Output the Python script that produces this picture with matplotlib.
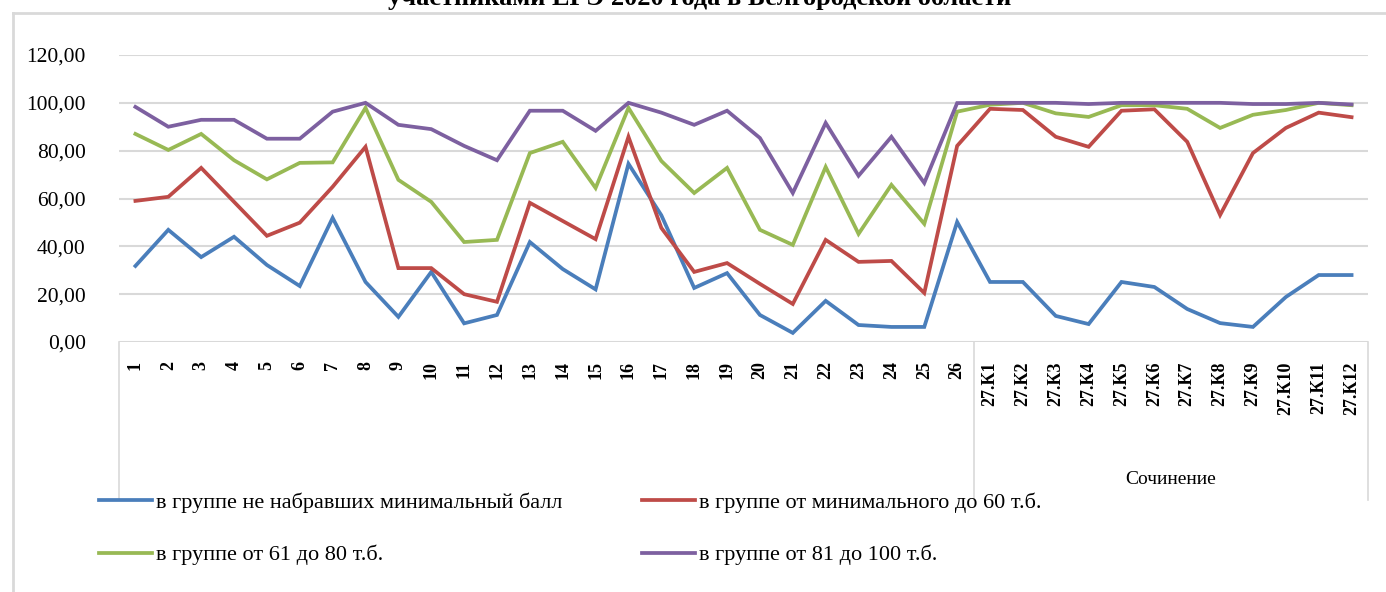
"""
Линейная диаграмма: доли участников по группам баллов (ЕГЭ 2020).
PNG пишется в out.png.
"""
import matplotlib
matplotlib.use("Agg")
import matplotlib.pyplot as plt
import matplotlib.transforms as mtransforms
from matplotlib.lines import Line2D

plt.rcParams["font.family"] = ["Liberation Serif", "DejaVu Serif"]

# --- данные ---
categories = [str(i) for i in range(1, 27)] + [f"27.К{i}" for i in range(1, 13)]

below_min = [31.8, 46.9, 35.5, 44.0, 32.2, 23.4, 51.9, 25.1, 10.5, 29.3,
             7.8, 11.3, 41.8, 30.5, 22.0, 74.5, 53.0, 22.6, 28.8, 11.3,
             3.8, 17.2, 7.1, 6.3, 6.3, 50.2,
             25.1, 25.1, 10.9, 7.5, 25.1, 23.0, 13.8, 7.9, 6.3, 18.8, 28.0, 28.0]

min_to_60 = [59.0, 60.7, 72.8, 58.6, 44.4, 49.9, 64.9, 81.6, 30.9, 30.9,
             20.0, 16.8, 58.2, 50.6, 43.0, 85.8, 47.7, 29.3, 33.0, 24.3,
             15.9, 42.7, 33.5, 33.9, 20.5, 82.0,
             97.5, 97.0, 85.8, 81.6, 96.7, 97.3, 83.7, 53.1, 79.0, 89.5, 95.9, 94.0]

from_61_to_80 = [87.0, 80.3, 87.0, 76.0, 68.0, 74.9, 75.1, 97.9, 67.8, 58.6,
                 41.8, 42.7, 79.0, 83.7, 64.4, 97.9, 75.7, 62.3, 72.8, 46.9,
                 40.6, 73.2, 45.2, 65.7, 49.4, 96.3,
                 99.2, 100.0, 95.6, 94.1, 99.0, 99.0, 97.5, 89.5, 95.0, 97.0, 100.0, 99.0]

from_81_to_100 = [98.3, 90.0, 92.9, 92.9, 85.0, 85.0, 96.3, 100.0, 90.8, 89.0,
                  82.0, 76.0, 96.7, 96.7, 88.3, 100.0, 95.9, 90.8, 96.7, 85.3,
                  62.3, 91.6, 69.5, 85.8, 66.5, 99.9,
                  100.0, 100.0, 100.0, 99.5, 100.0, 100.0, 100.0, 100.0, 99.5, 99.5, 100.0, 99.3]

series = [
    ("в группе не набравших минимальный балл", below_min, "#4A7EBB"),
    ("в группе от минимального до 60 т.б.", min_to_60, "#BE4B48"),
    ("в группе от 61 до 80 т.б.", from_61_to_80, "#98B954"),
    ("в группе от 81 до 100 т.б.", from_81_to_100, "#7D60A0"),
]

W, H = 1386, 592
fig = plt.figure(figsize=(W / 100, H / 100), dpi=100)
ax = fig.add_axes([119 / W, 1 - 342 / H, (1368 - 119) / W, (342 - 55) / H])

x = list(range(len(categories)))
handles = {}
for label, vals, color in series:
    (ln,) = ax.plot(x, vals, color=color, linewidth=2.7, solid_joinstyle="miter", zorder=3)
    handles[label] = ln

ax.set_xlim(-0.5, len(categories) - 0.5)
ax.set_ylim(0, 120)
ax.set_yticks(range(0, 121, 20))
ax.set_yticklabels([f"{v},00" for v in range(0, 121, 20)], fontsize=15.5)
ax.yaxis.grid(True, color="#d9d9d9", linewidth=1.5)
ax.set_axisbelow(True)
for s in ax.spines.values():
    s.set_visible(False)
ax.tick_params(axis="y", length=0, pad=24)
ax.tick_params(axis="x", length=0, pad=14)
ax.set_xticks(x)
ax.set_xticklabels(categories, rotation=90, fontsize=13, fontweight="bold")

# рамка многоуровневой оси категорий
trans = mtransforms.blended_transform_factory(ax.transData, ax.transAxes)
for xv in (-0.5, 25.5, len(categories) - 0.5):
    ax.add_line(Line2D([xv, xv], [0, -0.55], transform=trans, color="#d9d9d9",
                       linewidth=1.2, clip_on=False))
ax.text(31.5, -0.48, "Сочинение", transform=trans, ha="center", va="center", fontsize=14)

# внешняя рамка диаграммы (обрезана снизу и справа)
fig.add_artist(Line2D([13 / W, 1], [1 - 13 / H, 1 - 13 / H], color="#d9d9d9", linewidth=2))
fig.add_artist(Line2D([13 / W, 13 / W], [1 - 13 / H, 0], color="#d9d9d9", linewidth=2))

# заголовок, срезанный верхним краем
fig.text(0.505, 1 - 5 / H, "участниками ЕГЭ 2020 года в Белгородской области",
         ha="center", va="baseline", fontsize=19, fontweight="bold")

order = [series[0][0], series[2][0], series[1][0], series[3][0]]
fig.legend([handles[k] for k in order], order, ncol=2, loc="upper left",
           bbox_to_anchor=(79 / W, 1 - 472 / H), frameon=False, fontsize=16,
           handlelength=2.4, handletextpad=0.15, columnspacing=3.6, labelspacing=1.45)

fig.savefig("out.png", dpi=100)
